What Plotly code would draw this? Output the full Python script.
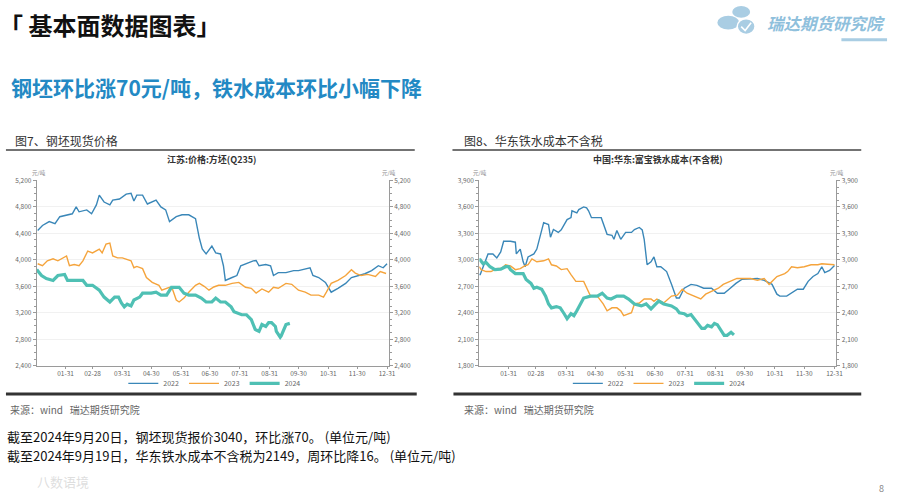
import plotly.graph_objects as go

W, H = 900, 502
FONT = "Noto Sans CJK SC"

# ---------------- data (day of year, value) ----------------
month_end_days = [31, 59, 90, 120, 151, 181, 212, 243, 273, 304, 334, 365]
month_end_labels = ["01-31", "02-28", "03-31", "04-30", "05-31", "06-30",
                    "07-31", "08-31", "09-30", "10-31", "11-30", "12-31"]
years = ["2022", "2023", "2024"]

# Chart 1: 江苏:价格:方坯(Q235)
billet_2022_day = [2, 7, 14, 20, 25, 32, 38, 42, 45, 53, 58, 63, 66, 71, 77, 80, 87, 94, 99, 102,
                   105, 111, 116, 125, 130, 135, 139, 146, 152, 159, 166, 170, 173, 177, 183, 187,
                   192, 195, 197, 204, 209, 213, 218, 226, 229, 232, 239, 244, 247, 252, 260, 268,
                   273, 280, 285, 288, 294, 301, 306, 307, 314, 322, 328, 335, 342, 349, 356, 361, 365]
billet_2022_val = [4445, 4519, 4578, 4548, 4652, 4681, 4696, 4800, 4726, 4755, 4696, 4830, 4978, 4874,
                   4830, 4904, 4919, 4993, 5007, 4889, 4978, 4978, 4844, 4904, 4800, 4755, 4578, 4652,
                   4681, 4681, 4622, 4326, 4163, 4089, 4207, 4104, 4089, 3911, 3689, 3733, 3763, 3911,
                   3941, 3985, 3990, 3911, 3930, 3911, 3763, 3807, 3807, 3837, 3837, 3867, 3881, 3763,
                   3733, 3659, 3541, 3511, 3570, 3644, 3733, 3763, 3790, 3837, 3911, 3880, 3941]

billet_2023_day = [2, 7, 12, 18, 23, 30, 32, 35, 40, 45, 49, 54, 59, 66, 69, 73, 77, 80, 85, 90, 94,
                   99, 102, 105, 111, 115, 121, 128, 131, 135, 139, 142, 146, 149, 154, 159, 166, 170,
                   175, 180, 185, 190, 197, 204, 211, 218, 224, 229, 235, 242, 247, 252, 260, 266, 273,
                   280, 286, 294, 299, 302, 307, 314, 322, 328, 332, 338, 345, 353, 358, 364]
billet_2023_val = [3941, 3911, 3985, 4015, 3985, 4044, 4059, 3911, 3930, 3911, 3985, 4133, 4104, 4163,
                   4104, 4237, 4252, 4059, 4030, 4030, 4015, 3985, 3881, 3900, 3867, 3733, 3659, 3615,
                   3541, 3560, 3585, 3560, 3393, 3363, 3422, 3511, 3615, 3644, 3600, 3541, 3590, 3615,
                   3615, 3644, 3659, 3585, 3570, 3496, 3560, 3511, 3585, 3570, 3644, 3630, 3541, 3511,
                   3467, 3467, 3437, 3511, 3644, 3689, 3763, 3850, 3800, 3763, 3780, 3748, 3822, 3793]

billet_2024_day = [1, 6, 11, 18, 23, 30, 33, 49, 53, 59, 66, 71, 77, 82, 86, 89, 92, 95, 99, 102, 108,
                   111, 120, 125, 130, 136, 141, 149, 154, 159, 166, 172, 177, 183, 187, 192, 197, 203,
                   206, 209, 214, 219, 224, 228, 232, 235, 239, 242, 245, 249, 250, 254, 255, 260, 264]
billet_2024_val = [3852, 3763, 3718, 3689, 3763, 3778, 3689, 3689, 3615, 3615, 3541, 3437, 3363, 3437,
                   3437, 3348, 3289, 3330, 3304, 3393, 3437, 3496, 3496, 3511, 3467, 3467, 3585, 3585,
                   3496, 3467, 3467, 3422, 3363, 3363, 3422, 3363, 3363, 3289, 3215, 3200, 3170, 3170,
                   3096, 2948, 2919, 3022, 2993, 3052, 3052, 2993, 2919, 2830, 2850, 3022, 3040]

# Chart 2: 中国:华东:富宝铁水成本(不含税)
iron_2022_day = [1, 2, 7, 10, 15, 19, 23, 26, 33, 38, 39, 43, 46, 48, 51, 57, 60, 64, 67, 72, 74, 77,
                 82, 85, 91, 95, 96, 101, 103, 108, 111, 113, 116, 126, 129, 132, 137, 139, 142, 146,
                 151, 157, 160, 165, 168, 170, 173, 177, 180, 183, 187, 193, 198, 203, 206, 211, 218,
                 224, 231, 239, 245, 252, 257, 264, 270, 280, 286, 293, 301, 306, 309, 316, 321, 327,
                 333, 338, 343, 348, 352, 355, 360, 365]
iron_2022_val = [2833, 2833, 2978, 3067, 3067, 3022, 3089, 3211, 3211, 3200, 3067, 3122, 2978, 2922,
                 3033, 3067, 3122, 3311, 3422, 3400, 3256, 3344, 3311, 3340, 3456, 3480, 3556, 3533,
                 3570, 3600, 3590, 3556, 3478, 3478, 3389, 3289, 3278, 3233, 3333, 3233, 3311, 3311,
                 3344, 3367, 3340, 3233, 2944, 2978, 3033, 2922, 2922, 2867, 2722, 2567, 2567, 2678,
                 2722, 2710, 2678, 2678, 2622, 2622, 2667, 2733, 2778, 2789, 2789, 2767, 2722, 2611,
                 2589, 2589, 2622, 2667, 2667, 2756, 2811, 2844, 2922, 2856, 2880, 2935]

iron_2023_day = [1, 3, 8, 13, 19, 24, 28, 33, 38, 43, 48, 51, 55, 60, 67, 72, 75, 80, 85, 91, 95, 100,
                 108, 111, 115, 122, 128, 132, 137, 142, 146, 149, 152, 157, 160, 165, 170, 177, 180,
                 183, 190, 198, 204, 209, 214, 221, 228, 233, 239, 246, 251, 259, 265, 273, 279, 286,
                 293, 298, 301, 306, 314, 317, 321, 327, 334, 341, 348, 352, 358, 365]
iron_2023_val = [2922, 2889, 2867, 2867, 2900, 2905, 2944, 2930, 2889, 2900, 2933, 2944, 3011, 2978,
                 2989, 3011, 2944, 2930, 2889, 2900, 2833, 2756, 2756, 2678, 2589, 2589, 2500, 2422,
                 2456, 2456, 2422, 2367, 2380, 2400, 2500, 2511, 2556, 2556, 2530, 2556, 2511, 2589,
                 2600, 2667, 2622, 2589, 2556, 2611, 2644, 2678, 2722, 2756, 2789, 2789, 2789, 2767,
                 2789, 2722, 2756, 2811, 2844, 2867, 2922, 2911, 2922, 2944, 2944, 2956, 2950, 2944]

iron_2024_day = [1, 2, 5, 8, 12, 17, 23, 28, 31, 33, 38, 46, 49, 54, 57, 60, 65, 69, 72, 75, 80, 84,
                 88, 91, 95, 98, 101, 105, 108, 115, 122, 127, 132, 136, 142, 149, 154, 160, 167, 172,
                 177, 182, 185, 190, 198, 203, 206, 211, 214, 218, 223, 229, 232, 235, 239, 242, 245,
                 249, 252, 255, 259, 262]
iron_2024_val = [3000, 3000, 2956, 2970, 2922, 2889, 2895, 2922, 2922, 2889, 2844, 2844, 2778, 2733,
                 2678, 2690, 2667, 2589, 2500, 2456, 2470, 2456, 2389, 2333, 2389, 2367, 2422, 2511,
                 2567, 2589, 2589, 2622, 2567, 2556, 2589, 2589, 2556, 2500, 2478, 2500, 2444, 2500,
                 2533, 2500, 2478, 2444, 2400, 2390, 2367, 2380, 2311, 2222, 2222, 2256, 2240, 2278,
                 2265, 2200, 2144, 2144, 2178, 2149]

billet_days = [billet_2022_day, billet_2023_day, billet_2024_day]
billet_vals = [billet_2022_val, billet_2023_val, billet_2024_val]
iron_days = [iron_2022_day, iron_2023_day, iron_2024_day]
iron_vals = [iron_2022_val, iron_2023_val, iron_2024_val]

colors = ["#3a87b8", "#f5a43c", "#4fc0b4"]
widths = [1.4, 1.4, 3.2]


def px(x):
    return x / W


def py(y):
    return 1 - y / H


fig = go.Figure()

for i, yr in enumerate(years):
    fig.add_trace(go.Scatter(x=billet_days[i], y=billet_vals[i], mode="lines", name=yr,
                             line=dict(color=colors[i], width=widths[i]),
                             xaxis="x", yaxis="y", legend="legend"))
for i, yr in enumerate(years):
    fig.add_trace(go.Scatter(x=iron_days[i], y=iron_vals[i], mode="lines", name=yr,
                             line=dict(color=colors[i], width=widths[i]),
                             xaxis="x2", yaxis="y3", legend="legend2"))
# invisible helper traces so the right-hand axes are drawn
fig.add_trace(go.Scatter(x=billet_2022_day, y=billet_2022_val, mode="lines", showlegend=False,
                         line=dict(color="rgba(0,0,0,0)"), hoverinfo="skip",
                         xaxis="x", yaxis="y2"))
fig.add_trace(go.Scatter(x=iron_2022_day, y=iron_2022_val, mode="lines", showlegend=False,
                         line=dict(color="rgba(0,0,0,0)"), hoverinfo="skip",
                         xaxis="x2", yaxis="y4"))

tickfont = dict(family=FONT, size=6.5, color="#666")
axis_line = "#9a9a9a"
ydom = [py(367), py(178)]

xcommon = dict(range=[1, 367], tickmode="array", tickvals=month_end_days, ticktext=month_end_labels,
               showline=True, linecolor=axis_line, linewidth=1, ticks="outside", ticklen=2,
               tickcolor=axis_line, tickfont=tickfont, showgrid=False, zeroline=False, fixedrange=True)


def ycommon(rng, dt, side):
    return dict(range=rng, dtick=dt, tick0=rng[0], tickformat=",", showline=True, linecolor=axis_line,
                linewidth=1, ticks="outside", ticklen=3, tickcolor=axis_line, tickfont=tickfont,
                zeroline=False, side=side, fixedrange=True,
                minor=dict(ticks="outside", ticklen=2, dtick=dt / 4, tickcolor=axis_line, showgrid=False))


legend_common = dict(yanchor="middle", orientation="h", font=dict(family=FONT, size=7, color="#666"),
                     itemwidth=30, bgcolor="rgba(0,0,0,0)", tracegroupgap=0, borderwidth=0)

fig.update_layout(
    width=W, height=H, margin=dict(l=0, r=0, t=0, b=0),
    paper_bgcolor="white", plot_bgcolor="white",
    font=dict(family=FONT, color="#333"),
    xaxis=dict(domain=[px(37), px(392)], anchor="y", **xcommon),
    yaxis=dict(domain=ydom, anchor="x", showgrid=True, gridcolor="#f1f1f1",
               **ycommon([2400, 5200], 400, "left")),
    yaxis2=dict(overlaying="y", anchor="x", showgrid=False, **ycommon([2400, 5200], 400, "right")),
    xaxis2=dict(domain=[px(483), px(843)], anchor="y3", **xcommon),
    yaxis3=dict(domain=ydom, anchor="x2", showgrid=True, gridcolor="#f1f1f1",
                **ycommon([1800, 3900], 300, "left")),
    yaxis4=dict(overlaying="y3", anchor="x2", showgrid=False, **ycommon([1800, 3900], 300, "right")),
    legend=dict(x=px(216), y=py(385), xanchor="center", **legend_common),
    legend2=dict(x=px(664), y=py(385), xanchor="center", **legend_common),
    showlegend=True,
)

ann = []


def text(x, y, s, size, color="#333", bold=False, xanchor="left", italic=False):
    if bold:
        s = "<b>" + s + "</b>"
    if italic:
        s = "<i>" + s + "</i>"
    ann.append(dict(x=px(x), y=py(y), xref="paper", yref="paper", text=s, showarrow=False,
                    xanchor=xanchor, yanchor="middle", align="left", borderpad=0,
                    font=dict(family=FONT, size=size, color=color)))


text(-2, 19, "「 基本面数据图表」", 24, "#111", bold=True)
text(10, 83, "钢坯环比涨70元/吨，铁水成本环比小幅下降", 21, "#2389c4", bold=True)
text(14, 137, "图7、钢坯现货价格", 12, "#333")
text(467, 137, "图8、华东铁水成本不含税", 12, "#333")
text(214, 157, "江苏:价格:方坯(Q235)", 9, "#333", bold=True, xanchor="center")
text(663, 157, "中国:华东:富宝铁水成本(不含税)", 9, "#333", bold=True, xanchor="center")
text(31, 170, "元/吨", 5.5, "#888")
text(384, 170, "元/吨", 5.5, "#888")
text(476, 170, "元/吨", 5.5, "#888")
text(836, 170, "元/吨", 5.5, "#888")
text(9, 412, "来源：wind   瑞达期货研究院", 10, "#666")
text(467, 412, "来源：wind   瑞达期货研究院", 10, "#666")
text(6, 439, "截至2024年9月20日，钢坯现货报价3040，环比涨70。 (单位元/吨)", 13, "#111")
text(6, 459, "截至2024年9月19日，华东铁水成本不含税为2149，周环比降16。 (单位元/吨)", 13, "#111")
text(36, 485, "八数语境", 13, "rgba(200,200,200,0.6)")
text(888, 492, "8", 9, "#888", xanchor="center")
text(772, 17, "瑞达期货研究院", 16.5, "#8fc0dc", bold=True, italic=True)
fig.update_layout(annotations=ann)

shapes = []


def hline(x0, x1, y, w, c):
    shapes.append(dict(type="line", xref="paper", yref="paper", x0=px(x0), x1=px(x1), y0=py(y), y1=py(y),
                       line=dict(color=c, width=w)))


hline(6, 418, 147, 1.5, "#444")
hline(456, 868, 147, 1.5, "#444")
hline(6, 420, 396, 3, "#333")
hline(457, 868, 396, 3, "#333")
hline(848, 894, 34.5, 3, "#a9cde3")


def ellipse(x0, y0, x1, y1, fill, line=None):
    shapes.append(dict(type="circle", xref="paper", yref="paper", x0=px(x0), x1=px(x1), y0=py(y1), y1=py(y0),
                       fillcolor=fill, line=dict(color=line or fill, width=1.5 if line else 0)))


logo = "#a9cde3"
ellipse(738, 0, 756, 12, logo)
ellipse(723, 10, 745, 24, logo)
ellipse(743, 13, 761, 29, logo, line="white")
shapes.append(dict(type="path", xref="paper", yref="paper",
                   path=f"M{px(747)},{py(21)} L{px(751)},{py(25)} L{px(757)},{py(17)}",
                   line=dict(color="white", width=1.6)))
fig.update_layout(shapes=shapes)

# remove the default 8px page margin so the figure fills the 900x502 window exactly
fig.write_html("out.html", config={"displayModeBar": False},
               post_script="document.body.style.margin='0';document.body.style.overflow='hidden';")
